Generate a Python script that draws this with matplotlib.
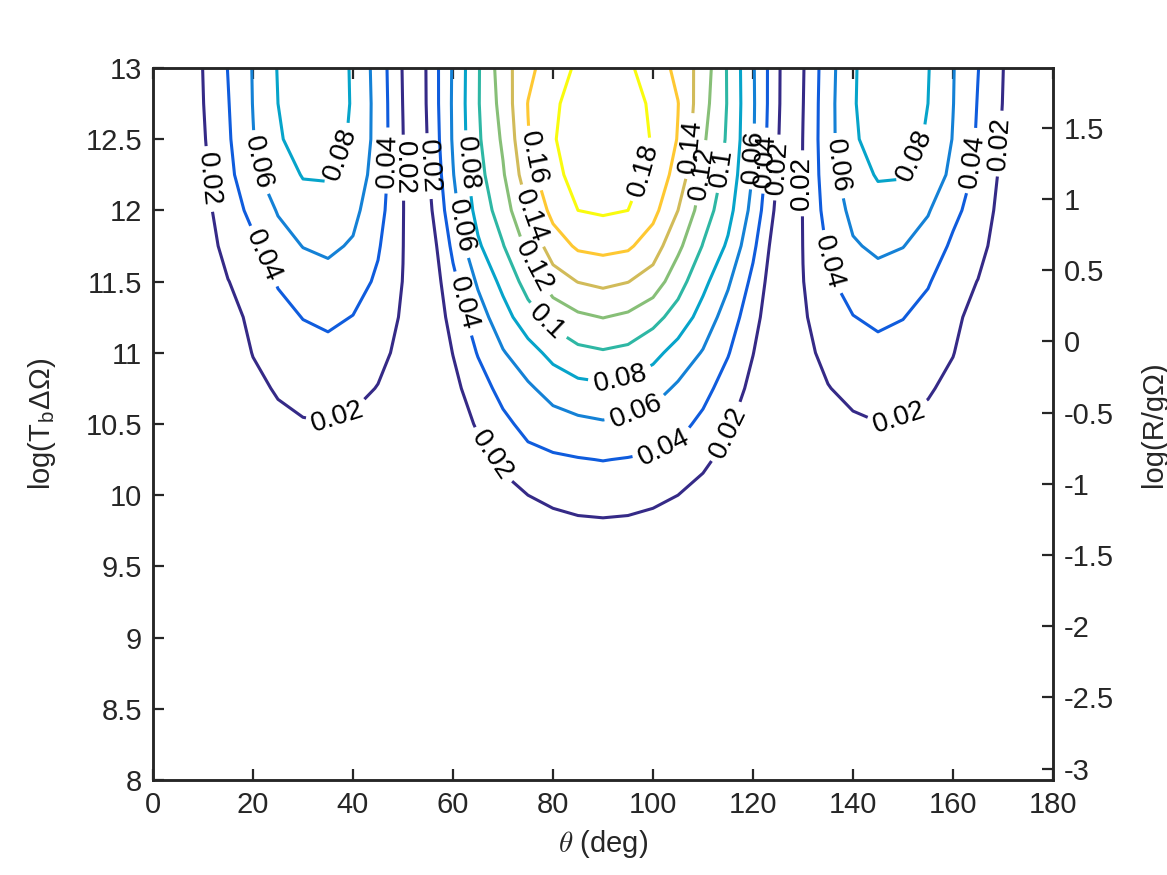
import numpy as np
import matplotlib
matplotlib.use('Agg')
import matplotlib.pyplot as plt

plt.rcParams['font.family'] = ['Liberation Sans', 'DejaVu Sans']
plt.rcParams['axes.unicode_minus'] = False
plt.rcParams['mathtext.fontset'] = 'cm'

# theta grid (deg), half range; the field is mirrored about 90 deg
theta_half = [0, 5, 10, 15, 20, 25, 30, 35, 40, 45, 50, 52.5,
              55, 60, 65, 70, 75, 80, 85, 90]
# log(Tb dOmega) grid
log_tb = [8, 9, 9.5, 9.75, 10, 10.25, 10.5, 10.75, 11, 11.25,
          11.5, 11.75, 12, 12.25, 12.5, 12.75, 13]

# contour field, one row per log_tb value
z_half = [
    [0, 0, 0, 0, 0, 0, 0, 0, 0, 0, 0, 0, 0, 0, 0, 0, 0, 0, 0, 0],
    [0, 0, 0, 0, 0, 0, 0, 0, 0, 0, 0, 0, 0, 0, 0.001, 0.002, 0.002, 0.003, 0.003, 0.003],
    [0, 0, 0, 0, 0, 0.001, 0.0015, 0.0015, 0.001, 0.001, 0.0005, 0, 0, 0.001, 0.003, 0.005, 0.006, 0.008, 0.0085, 0.009],
    [0, 0, 0, 0, 0.001, 0.002, 0.003, 0.003, 0.0025, 0.002, 0.001, 0, 0, 0.002, 0.005, 0.009, 0.012, 0.014, 0.0155, 0.016],
    [0, 0, 0, 0, 0.002, 0.005, 0.006, 0.0065, 0.0055, 0.004, 0.0025, 0, 0, 0.0035, 0.009, 0.014, 0.020, 0.0235, 0.026, 0.027],
    [0, 0, 0, 0.001, 0.005, 0.009, 0.011, 0.012, 0.0105, 0.008, 0.0055, 0, 0, 0.006, 0.014, 0.0237, 0.034, 0.037, 0.039, 0.0405],
    [0, 0, 0, 0.002, 0.009, 0.0155, 0.0185, 0.0195, 0.018, 0.0135, 0.0095, 0, 0, 0.0095, 0.0222, 0.0353, 0.046, 0.052, 0.0555, 0.058],
    [0, 0, 0.001, 0.004, 0.015, 0.022, 0.0265, 0.0275, 0.0235, 0.0195, 0.0135, 0, 0, 0.0145, 0.031, 0.0465, 0.057, 0.0675, 0.074, 0.076],
    [0, 0, 0.0025, 0.008, 0.0207, 0.028, 0.033, 0.035, 0.031, 0.0235, 0.0165, 0, 0.001, 0.0205, 0.0413, 0.0586, 0.072, 0.086, 0.095, 0.098],
    [0, 0, 0.0045, 0.013, 0.0245, 0.034, 0.0405, 0.0435, 0.0395, 0.029, 0.018, 0, 0.002, 0.0275, 0.051, 0.072, 0.092, 0.1065, 0.1165, 0.1205],
    [0, 0, 0.007, 0.0195, 0.029, 0.0415, 0.050, 0.0535, 0.048, 0.037, 0.0195, 0, 0.004, 0.035, 0.0628, 0.0855, 0.108, 0.131, 0.1405, 0.1445],
    [0, 0, 0.010, 0.0265, 0.0365, 0.052, 0.0605, 0.0635, 0.058, 0.042, 0.0205, 0, 0.007, 0.0445, 0.077, 0.099, 0.1245, 0.150, 0.163, 0.1655],
    [0, 0, 0.0135, 0.031, 0.045, 0.0615, 0.0725, 0.0735, 0.065, 0.0475, 0.021, 0, 0.0135, 0.0535, 0.087, 0.110, 0.140, 0.166, 0.180, 0.1825],
    [0, 0, 0.016, 0.0345, 0.0555, 0.0715, 0.081, 0.0815, 0.0725, 0.051, 0.021, 0, 0.018, 0.059, 0.093, 0.118, 0.152, 0.175, 0.1865, 0.191],
    [0, 0, 0.018, 0.0375, 0.0592, 0.078, 0.0875, 0.0875, 0.0775, 0.053, 0.0205, 0, 0.0215, 0.062, 0.097, 0.123, 0.159, 0.1785, 0.190, 0.195],
    [0, 0, 0.0195, 0.039, 0.0605, 0.080, 0.0895, 0.090, 0.0785, 0.053, 0.0195, 0, 0.0235, 0.0625, 0.0985, 0.1275, 0.1605, 0.177, 0.1875, 0.193],
    [0, 0, 0.0203, 0.0405, 0.061, 0.081, 0.090, 0.0905, 0.078, 0.052, 0.0187, 0, 0.024, 0.062, 0.098, 0.131, 0.155, 0.171, 0.183, 0.186],
]

levels = [0.02, 0.04, 0.06, 0.08, 0.10, 0.12, 0.14, 0.16, 0.18]
line_colors = ['#352a87', '#0f5cdd', '#1481d6', '#06a4ca', '#2eb7a4',
               '#87bf77', '#d1bb59', '#fec832', '#f9fb0e']

# right axis: log(R/g Omega) = log(Tb dOmega) - offset
r_offset = 11.08

# where the labels sit in the original (theta, log_tb)
label_pos = [
    (11.1, 12.22), (20.3, 12.33), (21.0, 11.66), (36.9, 12.4), (36.9, 10.55),
    (46.8, 12.35), (50.2, 12.3),
    (54.8, 12.31), (62.7, 12.33), (61.4, 11.89), (61.4, 11.34), (67.4, 10.27),
    (75.3, 12.36), (74.3, 11.94), (75.3, 11.59), (78.3, 11.2),
    (93.5, 10.83), (96.5, 10.6), (101.8, 10.37), (115.0, 10.44),
    (98.5, 12.28), (107.8, 12.45), (110.6, 12.26), (113.2, 12.3),
    (119.0, 12.38), (122.0, 12.35), (125.2, 12.3),
    (129.2, 12.19), (136.2, 12.31), (134.9, 11.63), (151.5, 12.4),
    (149.1, 10.58), (163.4, 12.35), (169.0, 12.47),
]

th = np.array(theta_half)
theta = np.concatenate([th, 180 - th[-2::-1]])
z = np.array(z_half)
zfull = np.concatenate([z, z[:, -2::-1]], axis=1)

fig = plt.figure(figsize=(11.67, 8.75), dpi=100)
ax = fig.add_axes([0.1311, 0.1086, 0.7712, 0.8137])

cs = ax.contour(theta, log_tb, zfull, levels=levels, colors=line_colors,
                linewidths=2.2)
ax.clabel(cs, levels, inline=True, inline_spacing=6, fontsize=20,
          colors='k', fmt=lambda v: f'{v:g}', manual=label_pos)

dark = '#262626'
ax.set_xlim(0, 180)
ax.set_ylim(8, 13)
ax.set_xticks(range(0, 181, 20))
yt = np.arange(8, 13.01, 0.5)
ax.set_yticks(yt)
ax.set_yticklabels([f'{v:g}' for v in yt])
ax.tick_params(direction='in', length=8, width=1.6, top=True, right=False,
               labelsize=21, colors=dark, pad=8)
for s in ax.spines.values():
    s.set_linewidth(1.8)
    s.set_color(dark)

ax.set_xlabel(r'$\theta$ (deg)', fontsize=21, color=dark)
ax.set_ylabel(r'log(T$_\mathregular{b}$ΔΩ)', fontsize=21, color=dark)
ax.xaxis.set_label_coords(0.5, -0.068)
ax.yaxis.set_label_coords(-0.105, 0.5)

ax2 = ax.twinx()
ax2.set_ylim(8 - r_offset, 13 - r_offset)
rt = np.arange(-3, 1.51, 0.5)
ax2.set_yticks(rt)
ax2.set_yticklabels([f'{v:g}' for v in rt])
ax2.tick_params(direction='in', length=8, width=1.6, labelsize=21,
                colors=dark, pad=8)
for s in ax2.spines.values():
    s.set_linewidth(1.8)
    s.set_color(dark)
ax2.set_ylabel('log(R/gΩ)', fontsize=21, color=dark)
ax2.yaxis.set_label_coords(1.097, 0.5)

fig.savefig('out.png', dpi=100)
